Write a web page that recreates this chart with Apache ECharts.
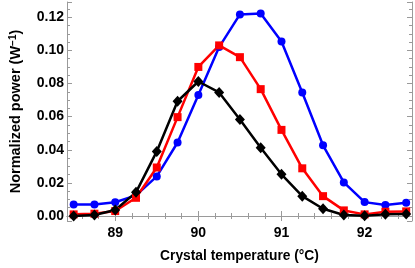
<!DOCTYPE html>
<html><head><meta charset="utf-8">
<script src="https://cdn.jsdelivr.net/npm/echarts@6/dist/echarts.min.js"></script>
<style>html,body{margin:0;padding:0;background:#fff}#c{width:415px;height:268px}</style>
</head><body><div id="c"></div>
<script>
const temps = [88.5, 88.75, 89.0, 89.25, 89.5, 89.75, 90.0, 90.25, 90.5, 90.75, 91.0, 91.25, 91.5, 91.75, 92.0, 92.25, 92.5];
const blueVals = [0.0069, 0.0070, 0.0083, 0.0125, 0.0239, 0.0444, 0.0730, 0.1020, 0.1217, 0.1223, 0.1053, 0.0746, 0.0427, 0.0203, 0.0084, 0.0066, 0.0080];
const redVals = [0.0010, 0.0014, 0.0030, 0.0110, 0.0293, 0.0597, 0.0900, 0.1030, 0.0959, 0.0766, 0.0520, 0.0288, 0.0120, 0.0034, 0.0010, 0.0026, 0.0028];
const blackVals = [0.0000, 0.0006, 0.0036, 0.0143, 0.0390, 0.0693, 0.0812, 0.0746, 0.0583, 0.0412, 0.0252, 0.0120, 0.0044, 0.0006, 0.0002, 0.0010, 0.0012];
const xTitle = 'Crystal temperature (°C)';

const pair = v => temps.map((t, i) => [t, v[i]]);
const F = 'Liberation Sans, Arial, sans-serif';
const frame = { show: true, lineStyle: { color: '#9a9a9a', width: 1 } };
const tick = { show: true, inside: true, length: 5, lineStyle: { color: '#9a9a9a' } };
const minor = { show: true, splitNumber: 5, length: 3, lineStyle: { color: '#9a9a9a' } };
const minorY = { show: true, splitNumber: 4, length: 3, lineStyle: { color: '#9a9a9a' } };
const xr = { min: 88.42, max: 92.57, splitNumber: 4 };
const yr = { min: -0.003, max: 0.1292, splitNumber: 6 };

const chart = echarts.init(document.getElementById('c'), null, { renderer: 'canvas' });
chart.setOption({
  animation: false,
  grid: { left: 54, right: 1, top: 2, bottom: 44, containLabel: false },
  xAxis: [
    Object.assign({ type: 'value', position: 'bottom', axisLine: frame, axisTick: tick, minorTick: minor,
      splitLine: { show: false },
      axisLabel: { color: '#000', fontFamily: F, fontWeight: 'bold', fontSize: 14, margin: 5,
        formatter: v => (Math.abs(v - Math.round(v)) < 1e-9 ? String(Math.round(v)) : '') },
      name: xTitle, nameLocation: 'middle', nameGap: 28,
      nameTextStyle: { color: '#000', fontFamily: F, fontWeight: 'bold', fontSize: 13.8 } }, xr),
    Object.assign({ type: 'value', position: 'top', axisLine: frame, axisTick: tick, minorTick: minor,
      splitLine: { show: false }, axisLabel: { show: false } }, xr)
  ],
  yAxis: [
    Object.assign({ type: 'value', position: 'left', axisLine: frame, axisTick: tick, minorTick: minorY,
      splitLine: { show: false },
      axisLabel: { color: '#000', fontFamily: F, fontWeight: 'bold', fontSize: 14, margin: 3,
        formatter: v => (v >= -1e-9 && Math.abs(v / 0.02 - Math.round(v / 0.02)) < 1e-6 ? Math.abs(v).toFixed(2) : '') },
      name: '{a|Normalized power (W}{s|−1}{a|)}', nameLocation: 'middle', nameGap: 43,
      nameTextStyle: { color: '#000', fontFamily: F, fontWeight: 'bold', fontSize: 14.5,
        rich: { a: { fontFamily: F, fontWeight: 'bold', fontSize: 14.5, color: '#000' },
                s: { fontFamily: F, fontWeight: 'bold', fontSize: 10, color: '#000', verticalAlign: 'top', padding: [0, 0, 6, 0] } } } }, yr),
    Object.assign({ type: 'value', position: 'right', axisLine: frame, axisTick: tick, minorTick: minorY,
      splitLine: { show: false }, axisLabel: { show: false } }, yr)
  ],
  series: [
    { type: 'line', data: pair(blueVals), color: '#0000ff', lineStyle: { width: 2.5, color: '#0000ff' },
      symbol: 'circle', symbolSize: 8, itemStyle: { color: '#0000ff' } },
    { type: 'line', data: pair(redVals), color: '#ff0000', lineStyle: { width: 2.5, color: '#ff0000' },
      symbol: 'rect', symbolSize: 8, itemStyle: { color: '#ff0000' } },
    { type: 'line', data: pair(blackVals), color: '#000', lineStyle: { width: 2.5, color: '#000' },
      symbol: 'diamond', symbolSize: [10, 11], itemStyle: { color: '#000' } }
  ]
});
</script></body></html>
